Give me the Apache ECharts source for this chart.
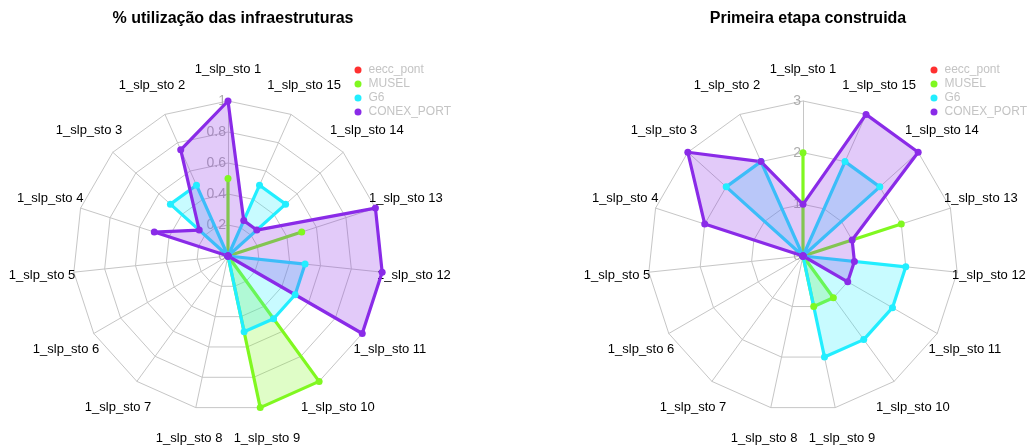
<!DOCTYPE html>
<html>
<head>
<meta charset="utf-8">
<script src="https://cdn.jsdelivr.net/npm/echarts@6/dist/echarts.min.js"></script>
<style>
  html, body { margin: 0; padding: 0; background: #fff; }
  #chart { width: 1031px; height: 447px; }
</style>
</head>
<body>
<div id="chart"></div>
<script>
// Indicator (axis) names, shared by both radars
const axisNames = [
  '1_slp_sto 1', '1_slp_sto 2', '1_slp_sto 3', '1_slp_sto 4', '1_slp_sto 5',
  '1_slp_sto 6', '1_slp_sto 7', '1_slp_sto 8', '1_slp_sto 9', '1_slp_sto 10',
  '1_slp_sto 11', '1_slp_sto 12', '1_slp_sto 13', '1_slp_sto 14', '1_slp_sto 15'
];

const seriesNames = ['eecc_pont', 'MUSEL', 'G6', 'CONEX_PORT'];
const seriesColors = ['#FF3030', '#80F820', '#22EEFF', '#8A2BE8'];

const titles = ['% utilização das infraestruturas', 'Primeira etapa construida'];

// % utilização das infraestruturas (scale 0..1)
const useEecc  = [0, 0, 0, 0, 0, 0, 0, 0, 0, 0, 0, 0, 0, 0, 0];
const useMusel = [0.5, 0, 0, 0, 0, 0, 0, 0, 1, 1, 0, 0, 0.5, 0, 0];
const useG6    = [0, 0.5, 0.5, 0, 0, 0, 0, 0, 0.5, 0.5, 0.5, 0.5, 0, 0.5, 0.5];
const useConex = [1, 0.75, 0.25, 0.5, 0, 0, 0, 0, 0, 0, 1, 1, 1, 0.25, 0.25];
const useMax = 1;
const useSplit = 5;

// Primeira etapa construida (scale 0..3)
const stageEecc  = [0, 0, 0, 0, 0, 0, 0, 0, 0, 0, 0, 0, 0, 0, 0];
const stageMusel = [2, 0, 0, 0, 0, 0, 0, 0, 1, 1, 0, 0, 2, 0, 0];
const stageG6    = [0, 2, 2, 0, 0, 0, 0, 0, 2, 2, 2, 2, 0, 2, 2];
const stageConex = [1, 2, 3, 2, 0, 0, 0, 0, 0, 0, 1, 1, 1, 3, 3];
const stageMax = 3;
const stageSplit = 3;

const FONT = 'Liberation Sans, Arial, sans-serif';
const centersX = [228, 803];
const CENTER_Y = 256;
const RADIUS = 155;

function indicators(max) {
  return axisNames.map(function (name, i) {
    const ind = { name: name, min: 0, max: max };
    if (i === 0) {
      // tick values are written along the first (vertical) axis only
      ind.axisLabel = {
        show: true, color: '#adadad', fontSize: 14, fontFamily: FONT,
        margin: 2, align: 'right', verticalAlign: 'middle'
      };
    }
    return ind;
  });
}

function radarCfg(cx, max, split) {
  return {
    center: [cx, CENTER_Y],
    radius: RADIUS,
    startAngle: 90,
    shape: 'polygon',
    splitNumber: split,
    indicator: indicators(max),
    nameGap: 32,
    axisName: {
      color: '#000', fontSize: 13, fontFamily: FONT,
      align: 'center', verticalAlign: 'middle'
    },
    axisLine: { lineStyle: { color: '#c6c6c6', width: 1 } },
    splitLine: { lineStyle: { color: '#c6c6c6', width: 1 } },
    splitArea: { show: false },
    axisTick: { show: false },
    axisLabel: { show: false }
  };
}

function radarSeries(idx, sets) {
  return {
    type: 'radar',
    radarIndex: idx,
    symbol: 'circle',
    symbolSize: 7,
    data: sets.map(function (vals, i) {
      const c = seriesColors[i];
      return {
        name: seriesNames[i],
        value: vals,
        itemStyle: { color: c },
        lineStyle: { color: c, width: 3.2 },
        areaStyle: { color: c, opacity: 0.25 }
      };
    })
  };
}

function legendCfg(left) {
  return {
    orient: 'vertical',
    left: left,
    top: 58,
    icon: 'circle',
    itemWidth: 7,
    itemHeight: 7,
    itemGap: 0,
    selectedMode: false,
    data: seriesNames,
    textStyle: { color: '#c4c4c4', fontSize: 12, fontFamily: FONT, lineHeight: 14, padding: [0, 0, 0, 2] }
  };
}

const chart = echarts.init(document.getElementById('chart'), null, { renderer: 'canvas' });
chart.setOption({
  animation: false,
  backgroundColor: '#ffffff',
  title: titles.map(function (t, i) {
    return {
      text: t,
      left: centersX[i],
      top: 6,
      textAlign: 'center',
      textStyle: { color: '#000', fontSize: 16, fontWeight: 'bold', fontFamily: FONT }
    };
  }),
  legend: [legendCfg(349.5), legendCfg(925.5)],
  radar: [
    radarCfg(centersX[0], useMax, useSplit),
    radarCfg(centersX[1], stageMax, stageSplit)
  ],
  series: [
    radarSeries(0, [useEecc, useMusel, useG6, useConex]),
    radarSeries(1, [stageEecc, stageMusel, stageG6, stageConex])
  ]
});
</script>
</body>
</html>
